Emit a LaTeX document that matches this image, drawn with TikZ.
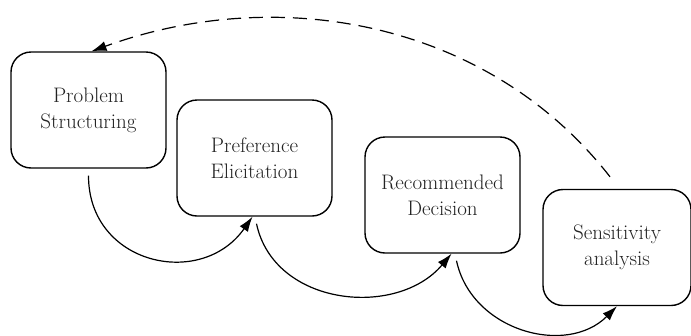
\documentclass[tikz,border=0pt]{standalone}
\usepackage{fontspec}
\usetikzlibrary{arrows.meta}
\definecolor{color_box_line}{HTML}{000000}
\definecolor{color_box_text}{HTML}{222222}
\def\boxwidth{155pt}
\def\boxheight{116pt}
\def\boxcornerradius{20pt}
\def\startgap{7pt}
\tikzset{
    stepbox/.style={draw=color_box_line, text=color_box_text, line width=1.4pt, rounded corners=\boxcornerradius,
        minimum width=\boxwidth, minimum height=\boxheight, align=center,
        font=\fontsize{21}{26}\selectfont},
    flow/.style={line width=1.2pt, -{Latex[length=15pt,width=10pt]}},
    feedback/.style={flow, dash pattern=on 14pt off 8pt}
}
\begin{document}
\begin{tikzpicture}[x=1pt,y=-1pt]
        \useasboundingbox (0,0) rectangle (691,335);
        % the four stages
        \node[stepbox] (structuring) at (88.5,110) {Problem\\Structuring};
        \node[stepbox] (elicitation) at (254.5,158) {Preference\\Elicitation};
        \node[stepbox] (decision) at (442.5,195) {Recommended\\Decision};
        \node[stepbox, minimum width=148pt] (sensitivity) at (617,247.5) {Sensitivity\\analysis};
        % forward arrows
        \draw[flow] ([yshift=-\startgap]structuring.south) to[out=-90, in=-125, looseness=1.35] ([xshift=-2pt]elicitation.south);
        \draw[flow] ([xshift=2pt,yshift=-\startgap]elicitation.south) to[out=-78, in=-130, looseness=1.1] ([xshift=9pt]decision.south);
        \draw[flow] ([xshift=14pt,yshift=-\startgap]decision.south) to[out=-78, in=-135, looseness=1.1] (sensitivity.south);
        % back to the start
        \draw[feedback] ([xshift=-7pt,yshift=12pt]sensitivity.north) to[out=128, in=20, looseness=0.95] ([xshift=3pt]structuring.north);
    \end{tikzpicture}
\end{document}
